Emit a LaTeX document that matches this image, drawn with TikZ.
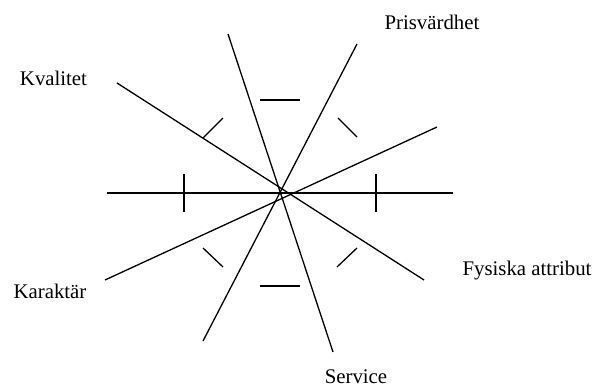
\documentclass[tikz,border=0pt]{standalone}
\usepackage{fontspec}
\setmainfont{Liberation Serif}
\begin{document}
\begin{tikzpicture}[x=1pt,y=-1pt,
  axis/.style={line width=1.3pt,black},
  tick/.style={line width=1.3pt,black},
  lbl/.style={anchor=base,inner sep=0pt,font=\fontsize{20.8}{22}\selectfont}]
\useasboundingbox (0,0) rectangle (595,390);
% end points
\coordinate (hl) at (107,193); \coordinate (hr) at (453,193);
\coordinate (a1) at (117,83);  \coordinate (a2) at (424,280);
\coordinate (b1) at (105,280); \coordinate (b2) at (437,127);
\coordinate (c1) at (228,34);  \coordinate (c2) at (333,352);
\coordinate (d1) at (357,44);  \coordinate (d2) at (203,341);
\draw[axis] (hl) -- (hr);
\draw[axis] (a1) -- (a2);
\draw[axis] (b1) -- (b2);
\draw[axis] (c1) -- (c2);
\draw[axis] (d1) -- (d2);
% ticks
\coordinate (t1a) at (184,174); \coordinate (t1b) at (184,212);
\coordinate (t2a) at (376,174); \coordinate (t2b) at (376,212);
\coordinate (t3a) at (203,138); \coordinate (t3b) at (223,118);
\coordinate (t4a) at (260,100); \coordinate (t4b) at (300,100);
\coordinate (t5a) at (338,118); \coordinate (t5b) at (357,137);
\coordinate (t6a) at (203,248); \coordinate (t6b) at (223,267);
\coordinate (t7a) at (337,267); \coordinate (t7b) at (357,248);
\coordinate (t8a) at (260,286); \coordinate (t8b) at (300,286);
\foreach \t in {1,...,8} \draw[tick] (t\t a) -- (t\t b);
% labels
\node[lbl] (kval) at (53.5,86) {Kvalitet};
\node[lbl] (pris) at (432,30) {Prisvärdhet};
\node[lbl] (kar) at (50,299) {Karaktär};
\node[lbl] (fys) at (527,276) {Fysiska attribut};
\node[lbl] (serv) at (356,384) {Service};
\end{tikzpicture}
\end{document}
